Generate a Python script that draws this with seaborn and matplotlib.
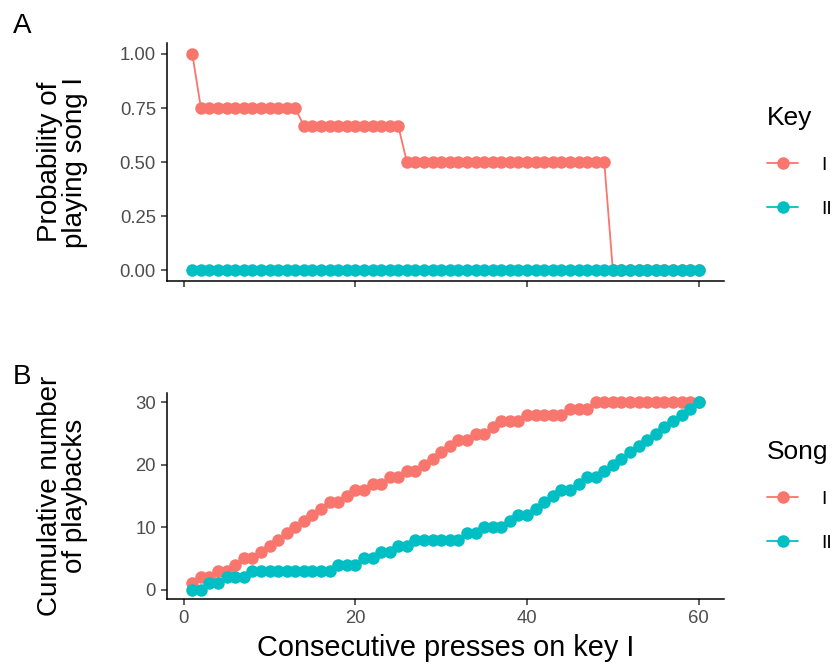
import pandas as pd
import matplotlib
matplotlib.use("Agg")
import matplotlib.pyplot as plt
import seaborn as sns

# Consecutive presses on key I
presses = list(range(1, 61))

# Panel A: probability of playing song I, by key
prob_key_I = [1.00, 0.75, 0.75, 0.75, 0.75, 0.75, 0.75, 0.75, 0.75, 0.75,
              0.75, 0.75, 0.75, 0.667, 0.667, 0.667, 0.667, 0.667, 0.667, 0.667,
              0.667, 0.667, 0.667, 0.667, 0.667, 0.50, 0.50, 0.50, 0.50, 0.50,
              0.50, 0.50, 0.50, 0.50, 0.50, 0.50, 0.50, 0.50, 0.50, 0.50,
              0.50, 0.50, 0.50, 0.50, 0.50, 0.50, 0.50, 0.50, 0.50, 0.00,
              0.00, 0.00, 0.00, 0.00, 0.00, 0.00, 0.00, 0.00, 0.00, 0.00]
prob_key_II = [0.0, 0.0, 0.0, 0.0, 0.0, 0.0, 0.0, 0.0, 0.0, 0.0,
               0.0, 0.0, 0.0, 0.0, 0.0, 0.0, 0.0, 0.0, 0.0, 0.0,
               0.0, 0.0, 0.0, 0.0, 0.0, 0.0, 0.0, 0.0, 0.0, 0.0,
               0.0, 0.0, 0.0, 0.0, 0.0, 0.0, 0.0, 0.0, 0.0, 0.0,
               0.0, 0.0, 0.0, 0.0, 0.0, 0.0, 0.0, 0.0, 0.0, 0.0,
               0.0, 0.0, 0.0, 0.0, 0.0, 0.0, 0.0, 0.0, 0.0, 0.0]

# Panel B: cumulative number of playbacks, by song
cum_song_I = [1, 2, 2, 3, 3, 4, 5, 5, 6, 7,
              8, 9, 10, 11, 12, 13, 14, 14, 15, 16,
              16, 17, 17, 18, 18, 19, 19, 20, 21, 22,
              23, 24, 24, 25, 25, 26, 27, 27, 27, 28,
              28, 28, 28, 28, 29, 29, 29, 30, 30, 30,
              30, 30, 30, 30, 30, 30, 30, 30, 30, 30]
cum_song_II = [0, 0, 1, 1, 2, 2, 2, 3, 3, 3,
               3, 3, 3, 3, 3, 3, 3, 4, 4, 4,
               5, 5, 6, 6, 7, 7, 8, 8, 8, 8,
               8, 8, 9, 9, 10, 10, 10, 11, 12, 12,
               13, 14, 15, 16, 16, 17, 18, 18, 19, 20,
               21, 22, 23, 24, 25, 26, 27, 28, 29, 30]

groups = ["I", "II"]
palette = {"I": "#F8766D", "II": "#00BFC4"}

df_a = pd.DataFrame({
    "press": presses * 2,
    "prob": prob_key_I + prob_key_II,
    "Key": ["I"] * len(presses) + ["II"] * len(presses),
})
df_b = pd.DataFrame({
    "press": presses * 2,
    "count": cum_song_I + cum_song_II,
    "Song": ["I"] * len(presses) + ["II"] * len(presses),
})

sns.set_theme(style="ticks")
plt.rcParams["font.family"] = ["Liberation Sans", "DejaVu Sans"]
plt.rcParams["text.color"] = "black"
plt.rcParams["axes.labelcolor"] = "black"

fig = plt.figure(figsize=(8.4, 6.72), dpi=100)
ax_a = fig.add_axes([0.1988, 0.5818, 0.6631, 0.354])
ax_b = fig.add_axes([0.1988, 0.1086, 0.6631, 0.3065])

line_kws = dict(hue_order=groups, palette=palette, marker="o", markersize=9,
                markeredgewidth=0, linewidth=1.3, errorbar=None)
sns.lineplot(data=df_a, x="press", y="prob", hue="Key", ax=ax_a, **line_kws)
sns.lineplot(data=df_b, x="press", y="count", hue="Song", ax=ax_b, **line_kws)

tick_color = "#4D4D4D"
for ax in (ax_a, ax_b):
    sns.despine(ax=ax)
    for side in ("left", "bottom"):
        ax.spines[side].set_color("black")
        ax.spines[side].set_linewidth(1.1)
    ax.tick_params(length=4, width=1.1, color="#333333", labelcolor=tick_color,
                   labelsize=13.3, pad=4)
    ax.set_xlim(-1.95, 62.95)
    ax.set_xticks([0, 20, 40, 60])

    handles, labels = ax.get_legend_handles_labels()
    title = "Key" if ax is ax_a else "Song"
    leg = ax.legend(handles, labels, title=title, loc="center left",
                    bbox_to_anchor=(1.06, 0.5), frameon=False, fontsize=14,
                    title_fontsize=19, alignment="left", handlelength=1.6,
                    handletextpad=1.2, labelspacing=1.35, borderpad=0)
    for txt in leg.get_texts():
        txt.set_color("black")

ax_a.set_ylim(-0.05, 1.05)
ax_a.set_yticks([0, 0.25, 0.5, 0.75, 1.0])
ax_a.set_yticklabels(["0.00", "0.25", "0.50", "0.75", "1.00"])
ax_a.set_xticklabels([])
ax_a.set_xlabel("")
ax_a.set_ylabel("Probability of\nplaying song I", fontsize=20, linespacing=0.95)
ax_a.yaxis.set_label_coords(-0.142, 0.5)

ax_b.set_ylim(-1.5, 31.5)
ax_b.set_yticks([0, 10, 20, 30])
ax_b.set_xlabel("Consecutive presses on key I", fontsize=20.8, labelpad=5)
ax_b.set_ylabel("Cumulative number\nof playbacks", fontsize=20, linespacing=0.95)
ax_b.yaxis.set_label_coords(-0.142, 0.5)

fig.text(22 / 840, 1 - 26 / 672, "A", fontsize=20, ha="center", va="center")
fig.text(22 / 840, 1 - 377 / 672, "B", fontsize=20, ha="center", va="center")

fig.savefig("out.png", dpi=100)
